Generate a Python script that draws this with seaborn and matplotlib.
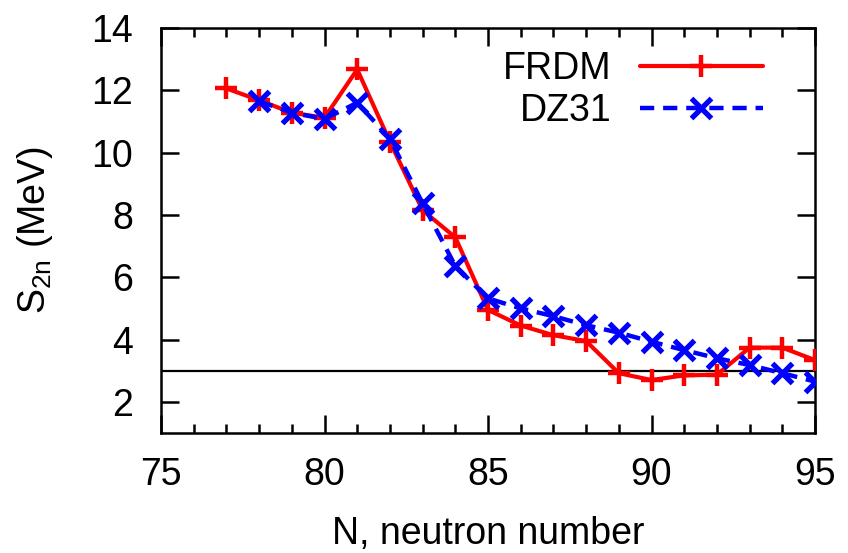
import matplotlib
matplotlib.use("Agg")
import matplotlib.pyplot as plt
import seaborn as sns
import pandas as pd
from matplotlib.ticker import MultipleLocator

N_frdm = [77, 78, 79, 80, 81, 82, 83, 84, 85, 86, 87, 88, 89, 90, 91, 92, 93, 94, 95]
S_frdm = [12.06, 11.68, 11.28, 11.12, 12.67, 10.35, 8.15, 7.28, 4.95, 4.45, 4.14, 3.95, 2.92, 2.70, 2.85, 2.87, 3.74, 3.74, 3.34]
N_dz = [78, 79, 80, 81, 82, 83, 84, 85, 86, 87, 88, 89, 90, 91, 92, 93, 94, 95]
S_dz = [11.65, 11.28, 11.08, 11.60, 10.45, 8.37, 6.36, 5.32, 5.00, 4.75, 4.46, 4.22, 3.93, 3.66, 3.40, 3.18, 2.92, 2.65]
threshold = 3.0

sns.set_style("ticks")
plt.rcParams['font.family'] = ['Liberation Sans', 'DejaVu Sans']
plt.rcParams['mathtext.default'] = 'regular'
plt.rcParams['text.color'] = 'black'
plt.rcParams['axes.labelcolor'] = 'black'

FS = 27

fig = plt.figure(figsize=(8.48, 5.53), dpi=100)
ax = fig.add_axes([161/848, 1-433/553, (815-161)/848, (433-28)/553])

df_f = pd.DataFrame({"N": N_frdm, "S": S_frdm})
df_d = pd.DataFrame({"N": N_dz, "S": S_dz})

ax.axhline(threshold, color='black', lw=1.6, zorder=1)
sns.lineplot(data=df_f, x="N", y="S", ax=ax, color='#ff0000', linewidth=3.0,
             marker='+', markersize=16, markeredgewidth=3.2,
             markeredgecolor='#ff0000', markerfacecolor='#ff0000',
             label='FRDM', zorder=3)
sns.lineplot(data=df_d, x="N", y="S", ax=ax, color='#0000ff', linewidth=3.2,
             marker='x', markersize=14, markeredgewidth=3.8,
             markeredgecolor='#0000ff', markerfacecolor='#0000ff',
             linestyle=(0, (3.2, 2.0)), label='DZ31', zorder=4)

ax.set_xlim(75, 95)
ax.set_ylim(1, 14)
ax.xaxis.set_major_locator(MultipleLocator(5))
ax.xaxis.set_minor_locator(MultipleLocator(1))
ax.set_yticks([2, 4, 6, 8, 10, 12, 14])

for s in ax.spines.values():
    s.set_visible(True)
    s.set_linewidth(1.8)
    s.set_color('black')

ax.tick_params(which='both', direction='in', top=True, right=True, labelsize=FS,
               width=1.8, color='black', labelcolor='black')
ax.tick_params(which='major', length=13)
ax.tick_params(which='minor', length=6.5)
ax.tick_params(axis='x', which='major', pad=17)
ax.tick_params(axis='y', which='major', pad=20)

ax.set_xlabel("N, neutron number", fontsize=FS, labelpad=17)
ax.set_ylabel("S$_{2n}$ (MeV)", fontsize=FS, labelpad=26)

leg = ax.legend(loc='upper right', bbox_to_anchor=(0.921, 0.942), frameon=False,
                markerfirst=False, fontsize=FS, handlelength=3.3,
                handletextpad=0.75, labelspacing=0.15, borderaxespad=0.0,
                borderpad=0.0)

fig.savefig("out.png", dpi=100)
